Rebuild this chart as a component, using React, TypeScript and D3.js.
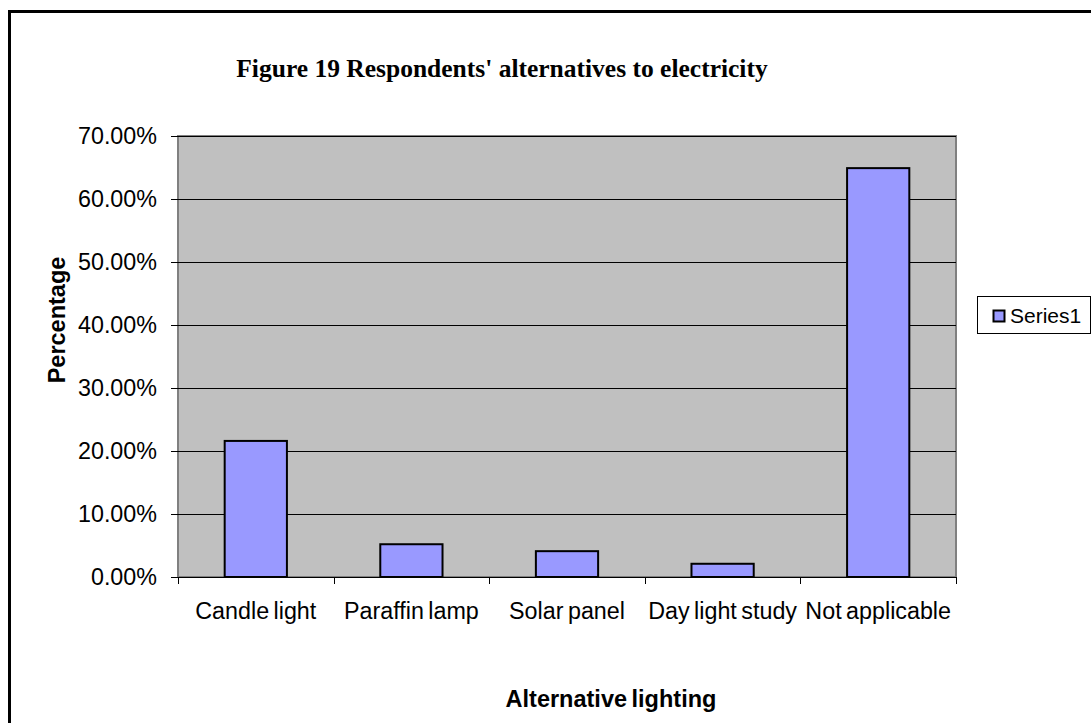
import React from "react";
import * as d3 from "d3";

const categories = ["Candle light", "Paraffin lamp", "Solar panel", "Day light study", "Not applicable"];
const values = [0.216, 0.052, 0.041, 0.021, 0.649];
const yTicks = [0, 0.1, 0.2, 0.3, 0.4, 0.5, 0.6, 0.7];
const seriesName = "Series1";
const title = "Figure 19 Respondents' alternatives to electricity";
const xTitle = "Alternative lighting";
const yTitle = "Percentage";

export default function App() {
  const W = 1091, H = 723;
  const plot = { left: 178, right: 956, top: 136, bottom: 577 };
  const x = d3.scaleBand<string>().domain(categories).range([plot.left, plot.right]).paddingInner(0.6).paddingOuter(0.3);
  const xEdge = d3.scaleLinear().domain([0, categories.length]).range([plot.left, plot.right]);
  const y = d3.scaleLinear().domain([0, 0.7]).range([plot.bottom, plot.top]);
  const fmt = (v: number) => (v * 100).toFixed(2) + "%";
  const sans = "'Liberation Sans', Arial, sans-serif";
  return (
    <svg width={W} height={H} style={{ position: "absolute", left: 0, top: 0, background: "#fff" }}>
      <rect x={9.5} y={11.5} width={W + 20} height={H + 20} fill="#fff" stroke="#000" strokeWidth={3} />
      <text x={502} y={77} textAnchor="middle" fontFamily="'Liberation Serif', 'Times New Roman', serif" fontWeight="bold" fontSize={25.5}>{title}</text>
      <rect x={plot.left} y={plot.top} width={plot.right - plot.left} height={plot.bottom - plot.top} fill="#C0C0C0" stroke="#808080" strokeWidth={2} />
      {yTicks.map((t) => (
        <g key={t}>
          {t > 0 && <line x1={plot.left} x2={plot.right} y1={Math.round(y(t)) + 0.5} y2={Math.round(y(t)) + 0.5} stroke="#000" strokeWidth={1} />}
          <line x1={plot.left - 7} x2={plot.left} y1={Math.round(y(t)) + 0.5} y2={Math.round(y(t)) + 0.5} stroke="#000" strokeWidth={1} />
          <text x={157} y={y(t) + 8} textAnchor="end" fontFamily={sans} fontSize={23.3}>{fmt(t)}</text>
        </g>
      ))}
      {values.map((v, i) => (
        <rect key={i} x={x(categories[i])} y={y(v)} width={x.bandwidth()} height={plot.bottom - y(v)} fill="#9999FF" stroke="#000" strokeWidth={2} />
      ))}
      <line x1={plot.left} x2={plot.right} y1={plot.bottom + 0.5} y2={plot.bottom + 0.5} stroke="#000" strokeWidth={1} />
      {d3.range(categories.length + 1).map((i) => (
        <line key={i} x1={Math.round(xEdge(i)) + 0.5} x2={Math.round(xEdge(i)) + 0.5} y1={plot.bottom} y2={plot.bottom + 7} stroke="#000" strokeWidth={1} />
      ))}
      {categories.map((c) => (
        <text key={c} x={(x(c) as number) + x.bandwidth() / 2} y={619} textAnchor="middle" fontFamily={sans} fontSize={23.3} wordSpacing={-2}>{c}</text>
      ))}
      <text x={611} y={707} textAnchor="middle" fontFamily={sans} fontWeight="bold" fontSize={23.5} wordSpacing={-2}>{xTitle}</text>
      <text transform="translate(65,320) rotate(-90)" textAnchor="middle" fontFamily={sans} fontWeight="bold" fontSize={23.5}>{yTitle}</text>
      <rect x={977.5} y={296.5} width={113} height={37} fill="#fff" stroke="#000" strokeWidth={1} />
      <rect x={993.5} y={310.5} width={11} height={11} fill="#9999FF" stroke="#000" strokeWidth={2} />
      <text x={1010} y={323} fontFamily={sans} fontSize={21}>{seriesName}</text>
    </svg>
  );
}
